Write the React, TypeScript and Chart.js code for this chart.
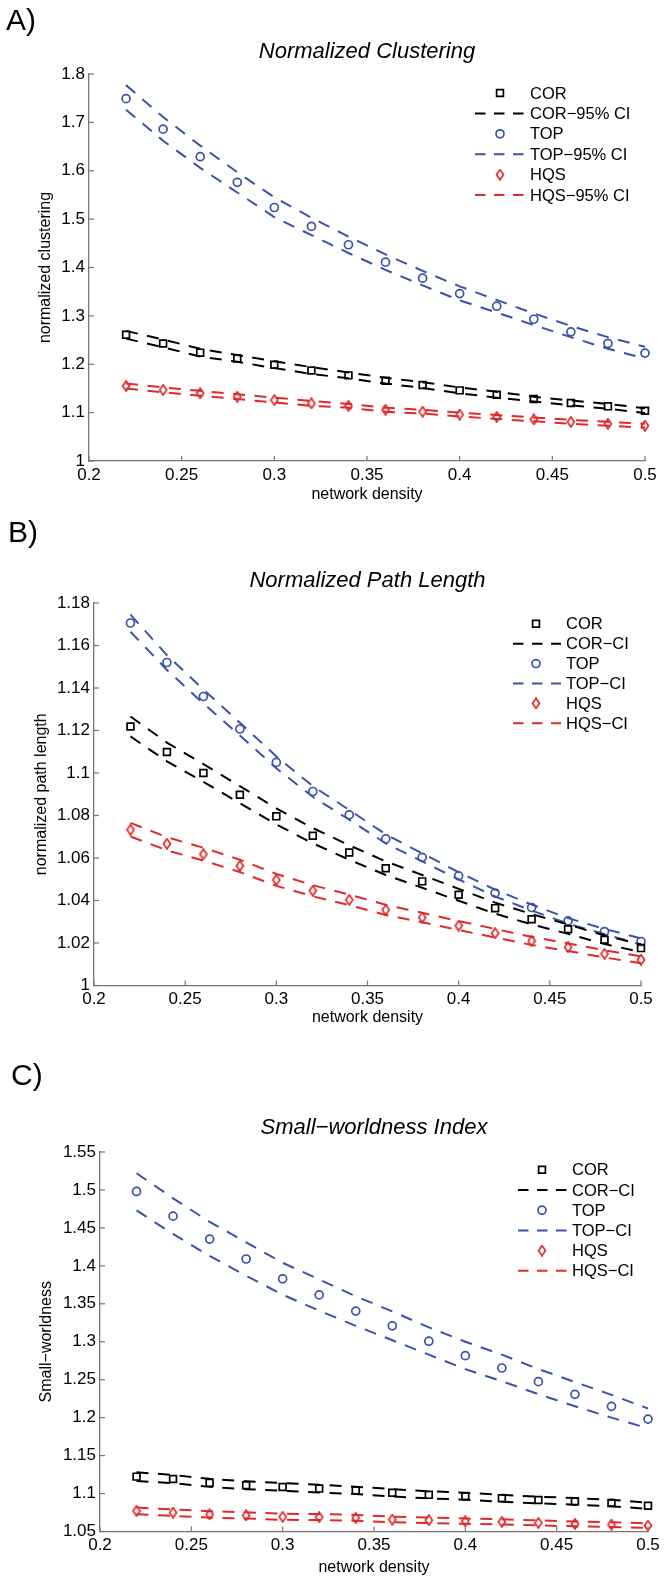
import React, { useEffect, useRef } from 'react';
import { Chart, registerables } from 'chart.js';

Chart.register(...registerables);

const FONT = "'Liberation Sans', Arial, Helvetica, sans-serif";
Chart.defaults.font.family = FONT;

// ---------- shared data ----------
const DENSITY = [0.22, 0.24, 0.26, 0.28, 0.3, 0.32, 0.34, 0.36, 0.38, 0.4, 0.42, 0.44, 0.46, 0.48, 0.5];
const X_TICKS = [0.2, 0.25, 0.3, 0.35, 0.4, 0.45, 0.5];
const X_TICK_LABELS = ['0.2', '0.25', '0.3', '0.35', '0.4', '0.45', '0.5'];
const SERIES_NAMES = ['COR', 'TOP', 'HQS'];

// ---------- Panel A : Normalized Clustering ----------
const A_COR = [1.261, 1.243, 1.224, 1.212, 1.199, 1.187, 1.177, 1.166, 1.157, 1.146, 1.137, 1.128, 1.120, 1.113, 1.104];
const A_COR_HI = [1.269, 1.251, 1.232, 1.219, 1.206, 1.194, 1.183, 1.172, 1.163, 1.152, 1.143, 1.133, 1.125, 1.118, 1.109];
const A_COR_LO = [1.253, 1.235, 1.216, 1.205, 1.192, 1.180, 1.171, 1.160, 1.151, 1.140, 1.131, 1.123, 1.115, 1.108, 1.099];
const A_TOP = [1.749, 1.686, 1.629, 1.576, 1.524, 1.485, 1.447, 1.411, 1.378, 1.346, 1.320, 1.293, 1.267, 1.243, 1.223];
const A_TOP_HI = [1.777, 1.711, 1.652, 1.597, 1.545, 1.503, 1.464, 1.427, 1.393, 1.361, 1.333, 1.305, 1.279, 1.256, 1.236];
const A_TOP_LO = [1.726, 1.662, 1.606, 1.555, 1.504, 1.467, 1.430, 1.395, 1.363, 1.332, 1.307, 1.281, 1.256, 1.232, 1.212];
const A_HQS = [1.155, 1.147, 1.140, 1.133, 1.126, 1.119, 1.114, 1.106, 1.102, 1.096, 1.091, 1.086, 1.081, 1.077, 1.073];
const A_HQS_HI = [1.160, 1.152, 1.145, 1.138, 1.131, 1.124, 1.118, 1.110, 1.106, 1.100, 1.095, 1.090, 1.085, 1.081, 1.077];
const A_HQS_LO = [1.150, 1.142, 1.135, 1.128, 1.121, 1.114, 1.110, 1.102, 1.098, 1.092, 1.087, 1.082, 1.077, 1.073, 1.069];
const A_Y_TICKS = [1, 1.1, 1.2, 1.3, 1.4, 1.5, 1.6, 1.7, 1.8];
const A_Y_TICK_LABELS = ['1', '1.1', '1.2', '1.3', '1.4', '1.5', '1.6', '1.7', '1.8'];
const A_CI_SUFFIX = '\u221295% CI';

// ---------- Panel B : Normalized Path Length ----------
const B_COR = [1.1219, 1.1099, 1.1000, 1.0898, 1.0796, 1.0705, 1.0626, 1.0552, 1.0490, 1.0427, 1.0364, 1.0312, 1.0265, 1.0215, 1.0176];
const B_COR_HI = [1.1266, 1.1143, 1.1042, 1.0938, 1.0834, 1.0741, 1.0660, 1.0584, 1.0520, 1.0455, 1.0390, 1.0336, 1.0287, 1.0235, 1.0194];
const B_COR_LO = [1.1172, 1.1055, 1.0958, 1.0858, 1.0758, 1.0669, 1.0592, 1.0520, 1.0460, 1.0399, 1.0338, 1.0288, 1.0243, 1.0195, 1.0158];
const B_TOP = [1.1706, 1.1520, 1.1360, 1.1207, 1.1050, 1.0913, 1.0803, 1.0690, 1.0603, 1.0516, 1.0435, 1.0367, 1.0304, 1.0254, 1.0207];
const B_TOP_HI = [1.1745, 1.1555, 1.1393, 1.1237, 1.1078, 1.0938, 1.0826, 1.0711, 1.0622, 1.0533, 1.0451, 1.0381, 1.0317, 1.0266, 1.0222];
const B_TOP_LO = [1.1665, 1.1485, 1.1327, 1.1177, 1.1022, 1.0888, 1.0780, 1.0669, 1.0584, 1.0499, 1.0419, 1.0353, 1.0291, 1.0242, 1.0192];
const B_HQS = [1.0733, 1.0667, 1.0618, 1.0563, 1.0497, 1.0446, 1.0403, 1.0356, 1.0320, 1.0282, 1.0246, 1.0210, 1.0180, 1.0149, 1.0121];
const B_HQS_HI = [1.0765, 1.0698, 1.0648, 1.0592, 1.0525, 1.0472, 1.0428, 1.0380, 1.0342, 1.0303, 1.0266, 1.0229, 1.0198, 1.0166, 1.0137];
const B_HQS_LO = [1.0701, 1.0636, 1.0588, 1.0534, 1.0469, 1.0420, 1.0378, 1.0332, 1.0298, 1.0261, 1.0226, 1.0191, 1.0162, 1.0132, 1.0105];
const B_Y_TICKS = [1, 1.02, 1.04, 1.06, 1.08, 1.1, 1.12, 1.14, 1.16, 1.18];
const B_Y_TICK_LABELS = ['1', '1.02', '1.04', '1.06', '1.08', '1.1', '1.12', '1.14', '1.16', '1.18'];
const B_CI_SUFFIX = '\u2212CI';

// ---------- Panel C : Small-worldness Index ----------
const C_COR = [1.1223, 1.1191, 1.1141, 1.1110, 1.1087, 1.1065, 1.1042, 1.1010, 1.0983, 1.0965, 1.0938, 1.0915, 1.0897, 1.0875, 1.0839];
const C_COR_HI = [1.1280, 1.1245, 1.1194, 1.1162, 1.1138, 1.1115, 1.1091, 1.1058, 1.1030, 1.1011, 1.0983, 1.0959, 1.0940, 1.0917, 1.0880];
const C_COR_LO = [1.1166, 1.1137, 1.1088, 1.1058, 1.1036, 1.1015, 1.0993, 1.0962, 1.0936, 1.0919, 1.0893, 1.0871, 1.0854, 1.0833, 1.0798];
const C_TOP = [1.4980, 1.4655, 1.4353, 1.4090, 1.3829, 1.3617, 1.3404, 1.3210, 1.3007, 1.2817, 1.2654, 1.2474, 1.2307, 1.2149, 1.1981];
const C_TOP_HI = [1.522, 1.489, 1.458, 1.431, 1.404, 1.382, 1.360, 1.340, 1.319, 1.300, 1.283, 1.264, 1.247, 1.230, 1.212];
const C_TOP_LO = [1.473, 1.442, 1.413, 1.387, 1.362, 1.341, 1.321, 1.302, 1.283, 1.264, 1.248, 1.231, 1.215, 1.200, 1.186];
const C_HQS = [1.0771, 1.0748, 1.0726, 1.0712, 1.0694, 1.0690, 1.0681, 1.0658, 1.0649, 1.0636, 1.0627, 1.0613, 1.0600, 1.0591, 1.0577];
const C_HQS_HI = [1.0815, 1.0791, 1.0768, 1.0753, 1.0734, 1.0729, 1.0719, 1.0695, 1.0685, 1.0671, 1.0661, 1.0646, 1.0632, 1.0622, 1.0607];
const C_HQS_LO = [1.0727, 1.0705, 1.0684, 1.0671, 1.0654, 1.0651, 1.0643, 1.0621, 1.0613, 1.0601, 1.0593, 1.0580, 1.0568, 1.0560, 1.0547];
const C_Y_TICKS = [1.05, 1.1, 1.15, 1.2, 1.25, 1.3, 1.35, 1.4, 1.45, 1.5, 1.55];
const C_Y_TICK_LABELS = ['1.05', '1.1', '1.15', '1.2', '1.25', '1.3', '1.35', '1.4', '1.45', '1.5', '1.55'];
const C_CI_SUFFIX = '\u2212CI';

// ---------- styles ----------
const BLACK = '#000000';
const BLUE = '#3a52a8';
const RED = '#e1282a';
const AXIS_COLOR = '#767676';
const DASH = [12, 9.5];
const LEGEND_DASH = [10.5, 8.5];
const TICK_LEN = 5;
const PAGE_W = 664;

type Spec = {
  letter: string;
  title: string;
  yTitle: string;
  top: number;
  height: number;
  area: { l: number; r: number; t: number; b: number };
  yMin: number;
  yMax: number;
  yTicks: number[];
  yTickLabels: string[];
  ciSuffix: string;
  series: number[][][];
  letterX: number;
  letterY: number;
  titleY: number;
  xTitleY: number;
  yTitleX: number;
  legend: { lx0: number; lx1: number; mx: number; tx: number; y0: number; dy: number };
};

const PANELS: Spec[] = [
  {
    letter: 'A)',
    title: 'Normalized Clustering',
    yTitle: 'normalized clustering',
    top: 0,
    height: 510,
    area: { l: 89, r: 645, t: 74, b: 461 },
    yMin: 1,
    yMax: 1.8,
    yTicks: A_Y_TICKS,
    yTickLabels: A_Y_TICK_LABELS,
    ciSuffix: A_CI_SUFFIX,
    series: [
      [A_COR, A_COR_HI, A_COR_LO],
      [A_TOP, A_TOP_HI, A_TOP_LO],
      [A_HQS, A_HQS_HI, A_HQS_LO],
    ],
    letterX: 6,
    letterY: 30,
    titleY: 52,
    xTitleY: 495,
    yTitleX: 46,
    legend: { lx0: 475, lx1: 525, mx: 500, tx: 530, y0: 93, dy: 20.4 },
  },
  {
    letter: 'B)',
    title: 'Normalized Path Length',
    yTitle: 'normalized path length',
    top: 510,
    height: 530,
    area: { l: 94, r: 641, t: 603, b: 985.5 },
    yMin: 1,
    yMax: 1.18,
    yTicks: B_Y_TICKS,
    yTickLabels: B_Y_TICK_LABELS,
    ciSuffix: B_CI_SUFFIX,
    series: [
      [B_COR, B_COR_HI, B_COR_LO],
      [B_TOP, B_TOP_HI, B_TOP_LO],
      [B_HQS, B_HQS_HI, B_HQS_LO],
    ],
    letterX: 8,
    letterY: 542,
    titleY: 581,
    xTitleY: 1017.5,
    yTitleX: 42,
    legend: { lx0: 513, lx1: 561, mx: 536, tx: 566, y0: 623.8, dy: 19.9 },
  },
  {
    letter: 'C)',
    title: 'Small\u2212worldness Index',
    yTitle: 'Small\u2212worldness',
    top: 1040,
    height: 542,
    area: { l: 100, r: 648, t: 1152, b: 1531.5 },
    yMin: 1.05,
    yMax: 1.55,
    yTicks: C_Y_TICKS,
    yTickLabels: C_Y_TICK_LABELS,
    ciSuffix: C_CI_SUFFIX,
    series: [
      [C_COR, C_COR_HI, C_COR_LO],
      [C_TOP, C_TOP_HI, C_TOP_LO],
      [C_HQS, C_HQS_HI, C_HQS_LO],
    ],
    letterX: 11,
    letterY: 1085,
    titleY: 1128,
    xTitleY: 1568,
    yTitleX: 46.5,
    legend: { lx0: 518, lx1: 567, mx: 542, tx: 572, y0: 1169.8, dy: 20.2 },
  },
];

const COLORS = [BLACK, BLUE, RED];
const MARKER_RADIUS = [4.8, 4, 5];
const MARKER_BORDER = 1.7;

// MATLAB-like diamond marker (taller than wide)
function makeDiamond(color: string): HTMLCanvasElement {
  const c = document.createElement('canvas');
  const w = 10;
  const h = 12;
  c.width = w;
  c.height = h;
  const g = c.getContext('2d')!;
  g.strokeStyle = color;
  g.lineWidth = MARKER_BORDER;
  g.beginPath();
  g.moveTo(w / 2, 1);
  g.lineTo(w - 1.5, h / 2);
  g.lineTo(w / 2, h - 1);
  g.lineTo(1.5, h / 2);
  g.closePath();
  g.stroke();
  return c;
}

function toPoints(ys: number[]) {
  return DENSITY.map((x, i) => ({ x, y: ys[i] }));
}

function drawMarker(ctx: CanvasRenderingContext2D, style: any, x: number, y: number, r: number) {
  if (typeof style !== 'string') {
    ctx.drawImage(style, x - style.width / 2, y - style.height / 2);
    return;
  }
  ctx.beginPath();
  if (style === 'circle') {
    ctx.arc(x, y, r, 0, Math.PI * 2);
  } else {
    const s = r * Math.SQRT1_2;
    ctx.rect(x - s, y - s, 2 * s, 2 * s);
  }
  ctx.stroke();
}

const decorPlugin = {
  id: 'decor',
  afterDraw(chart: any, _args: any, opts: any) {
    const ctx: CanvasRenderingContext2D = chart.ctx;
    const a = chart.chartArea;
    const xs = chart.scales.x;
    const ys = chart.scales.y;
    ctx.save();
    // inward ticks (MATLAB style)
    ctx.strokeStyle = AXIS_COLOR;
    ctx.lineWidth = 1.2;
    ctx.setLineDash([]);
    xs.ticks.forEach((t: any) => {
      const p = xs.getPixelForValue(t.value);
      ctx.beginPath();
      ctx.moveTo(p, a.bottom);
      ctx.lineTo(p, a.bottom - TICK_LEN);
      ctx.stroke();
    });
    ys.ticks.forEach((t: any) => {
      const p = ys.getPixelForValue(t.value);
      ctx.beginPath();
      ctx.moveTo(a.left, p);
      ctx.lineTo(a.left + TICK_LEN, p);
      ctx.stroke();
    });

    ctx.fillStyle = '#000';
    // panel letter
    ctx.font = `30px ${FONT}`;
    ctx.textAlign = 'left';
    ctx.textBaseline = 'alphabetic';
    ctx.fillText(opts.letter, opts.letterX, opts.letterY);
    // title
    const cx = (a.left + a.right) / 2;
    ctx.font = `italic 22px ${FONT}`;
    ctx.textAlign = 'center';
    ctx.textBaseline = 'middle';
    ctx.fillText(opts.title, cx, opts.titleY);
    // axis titles
    ctx.font = `16px ${FONT}`;
    ctx.fillText(opts.xTitle, cx, opts.xTitleY);
    ctx.save();
    ctx.translate(opts.yTitleX, (a.top + a.bottom) / 2);
    ctx.rotate(-Math.PI / 2);
    ctx.fillText(opts.yTitle, 0, 0);
    ctx.restore();

    // legend
    const lg = opts.legend;
    let row = 0;
    chart.data.datasets.forEach((d: any) => {
      if (!d.legendLabel) return;
      const y = lg.y0 + row * lg.dy;
      ctx.save();
      if (d.showLine) {
        ctx.strokeStyle = d.borderColor;
        ctx.lineWidth = d.borderWidth;
        ctx.setLineDash(LEGEND_DASH);
        ctx.beginPath();
        ctx.moveTo(lg.lx0, y);
        ctx.lineTo(lg.lx1, y);
        ctx.stroke();
      } else {
        ctx.strokeStyle = d.pointBorderColor;
        ctx.lineWidth = d.pointBorderWidth;
        drawMarker(ctx, d.pointStyle, lg.mx, y, d.pointRadius);
      }
      ctx.restore();
      ctx.fillStyle = '#000';
      ctx.font = `16.5px ${FONT}`;
      ctx.textAlign = 'left';
      ctx.textBaseline = 'middle';
      ctx.fillText(d.legendLabel, lg.tx, y + 1);
      row++;
    });
    ctx.restore();
  },
};

function buildConfig(spec: Spec): any {
  const markers: any[] = ['rect', 'circle', makeDiamond(RED)];
  const datasets: any[] = [];
  spec.series.forEach((s, i) => {
    const [mean, hi, lo] = s;
    const color = COLORS[i];
    datasets.push({
      label: SERIES_NAMES[i],
      legendLabel: SERIES_NAMES[i],
      data: toPoints(mean),
      showLine: false,
      pointStyle: markers[i],
      pointRadius: MARKER_RADIUS[i],
      pointBorderWidth: MARKER_BORDER,
      pointBorderColor: color,
      pointBackgroundColor: 'rgba(0,0,0,0)',
      clip: false,
    });
    [hi, lo].forEach((band, k) => {
      datasets.push({
        label: SERIES_NAMES[i] + spec.ciSuffix,
        legendLabel: k === 0 ? SERIES_NAMES[i] + spec.ciSuffix : undefined,
        data: toPoints(band),
        showLine: true,
        borderColor: color,
        borderWidth: 2,
        borderDash: DASH,
        pointRadius: 0,
        fill: false,
        tension: 0,
        clip: false,
      });
    });
  });

  const top = spec.top;
  const leftW = spec.area.l;
  const bottomH = top + spec.height - spec.area.b;
  return {
    type: 'scatter',
    data: { datasets },
    options: {
      responsive: false,
      maintainAspectRatio: false,
      animation: false,
      devicePixelRatio: 1,
      events: [],
      layout: {
        padding: {
          left: 0,
          right: PAGE_W - spec.area.r,
          top: spec.area.t - top,
          bottom: 0,
        },
      },
      scales: {
        x: {
          type: 'linear',
          position: 'bottom',
          min: 0.2,
          max: 0.5,
          afterFit: (s: any) => {
            s.height = bottomH;
          },
          afterBuildTicks: (s: any) => {
            s.ticks = X_TICKS.map((v) => ({ value: v }));
          },
          ticks: {
            autoSkip: false,
            maxRotation: 0,
            minRotation: 0,
            padding: 4,
            color: '#000',
            font: { size: 17, family: FONT },
            callback: (_v: any, i: number) => X_TICK_LABELS[i],
          },
          grid: { display: false, drawTicks: false },
          border: { display: true, color: AXIS_COLOR, width: 1.3 },
        },
        y: {
          type: 'linear',
          position: 'left',
          min: spec.yMin,
          max: spec.yMax,
          afterFit: (s: any) => {
            s.width = leftW;
          },
          afterBuildTicks: (s: any) => {
            s.ticks = spec.yTicks.map((v) => ({ value: v }));
          },
          ticks: {
            autoSkip: false,
            padding: 4,
            color: '#000',
            font: { size: 17, family: FONT },
            callback: (_v: any, i: number) => spec.yTickLabels[i],
          },
          grid: { display: false, drawTicks: false },
          border: { display: true, color: AXIS_COLOR, width: 1.3 },
        },
      },
      plugins: {
        legend: { display: false },
        tooltip: { enabled: false },
        title: { display: false },
        decor: {
          letter: spec.letter,
          letterX: spec.letterX,
          letterY: spec.letterY - top,
          title: spec.title,
          titleY: spec.titleY - top,
          xTitle: 'network density',
          xTitleY: spec.xTitleY - top,
          yTitle: spec.yTitle,
          yTitleX: spec.yTitleX,
          legend: {
            lx0: spec.legend.lx0,
            lx1: spec.legend.lx1,
            mx: spec.legend.mx,
            tx: spec.legend.tx,
            y0: spec.legend.y0 - top,
            dy: spec.legend.dy,
          },
        },
      },
    },
    plugins: [decorPlugin],
  };
}

function Panel({ spec }: { spec: Spec }) {
  const ref = useRef<HTMLCanvasElement>(null);
  useEffect(() => {
    if (!ref.current) return;
    const chart = new Chart(ref.current, buildConfig(spec));
    return () => chart.destroy();
  }, [spec]);
  return (
    <canvas
      ref={ref}
      width={PAGE_W}
      height={spec.height}
      style={{ position: 'absolute', left: 0, top: spec.top, width: PAGE_W, height: spec.height, display: 'block' }}
    />
  );
}

export default function App() {
  return (
    <div style={{ position: 'absolute', left: 0, top: 0, width: PAGE_W, height: 1582, background: '#fff' }}>
      {PANELS.map((p) => (
        <Panel key={p.letter} spec={p} />
      ))}
    </div>
  );
}
